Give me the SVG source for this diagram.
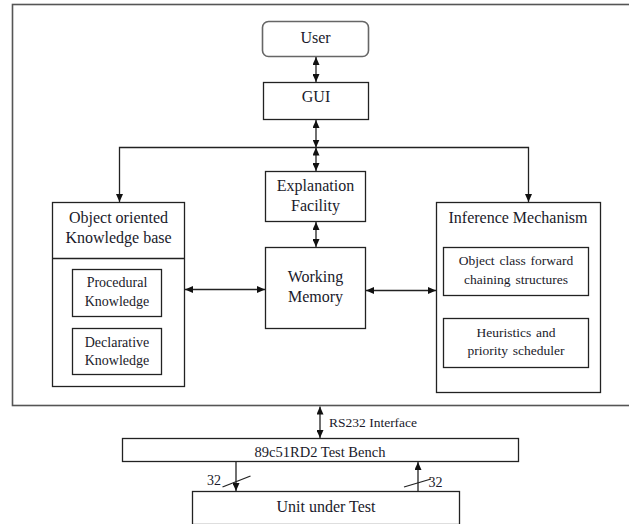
<svg xmlns="http://www.w3.org/2000/svg" width="629" height="524" viewBox="0 0 629 524">
<defs>
<marker id="ah" viewBox="0 0 8 7" refX="8" refY="3.5" markerWidth="8" markerHeight="7" markerUnits="userSpaceOnUse" orient="auto-start-reverse">
<path d="M0,0 L8,3.5 L0,7 z" fill="#111"/>
</marker>
<style>
.box{fill:#fff;stroke:#222;stroke-width:1.3}
.outer{fill:none;stroke:#555;stroke-width:1.6}
text{font-family:'Liberation Serif','Tinos','DejaVu Serif','Times New Roman',serif;font-size:16px;fill:#1a1a2a}
.t{text-anchor:middle}
.s{font-size:14px}
.r{font-size:13.5px;word-spacing:1.5px}
.c{fill:none;stroke:#222;stroke-width:1.3}
.a{marker-end:url(#ah)}
.b{marker-start:url(#ah);marker-end:url(#ah)}
</style>
</defs>
<rect width="629" height="524" fill="#fff"/>
<rect class="outer" x="12.5" y="4.5" width="630" height="401"/>

<g id="user"><rect class="box" x="262.5" y="21.5" width="106" height="35" rx="6" style="stroke:#666;stroke-width:1.6"/><text class="t" x="315.5" y="43">User</text></g>
<g id="gui"><rect class="box" x="263.5" y="82.5" width="105" height="37"/><text class="t" x="316" y="102">GUI</text></g>
<g id="explanation"><rect class="box" x="265.5" y="171.5" width="100" height="50"/><text class="t" x="315.5" y="190.5">Explanation</text><text class="t" x="315.5" y="211">Facility</text></g>
<g id="working-memory"><rect class="box" x="265.5" y="247.5" width="100" height="81"/><text class="t" x="315.5" y="282">Working</text><text class="t" x="315.5" y="302">Memory</text></g>
<g id="knowledge-base"><rect class="box" x="52.5" y="202.5" width="132" height="184"/><line class="c" x1="52.5" y1="258.5" x2="184.5" y2="258.5"/><text class="t" x="118.5" y="223">Object oriented</text><text class="t" x="118.5" y="243">Knowledge base</text></g>
<g id="procedural"><rect class="box" x="72.5" y="269.5" width="89" height="47"/><text class="t s" x="117" y="287">Procedural</text><text class="t s" x="117" y="306">Knowledge</text></g>
<g id="declarative"><rect class="box" x="72.5" y="328.5" width="89" height="46"/><text class="t s" x="117" y="346.5">Declarative</text><text class="t s" x="117" y="365">Knowledge</text></g>
<g id="inference"><rect class="box" x="436.5" y="202.5" width="164" height="190"/><text class="t" x="518" y="223">Inference Mechanism</text></g>
<g id="forward-chaining"><rect class="box" x="443.5" y="247.5" width="145" height="48"/><text class="t r" x="516" y="265">Object class forward</text><text class="t r" x="516" y="283.5">chaining structures</text></g>
<g id="heuristics"><rect class="box" x="443.5" y="318.5" width="145" height="49"/><text class="t r" x="516" y="336.5">Heuristics and</text><text class="t r" x="516" y="355">priority scheduler</text></g>
<g id="test-bench"><rect class="box" x="122.5" y="438.5" width="396" height="23"/><text class="t" x="320" y="456.5" style="font-size:14.5px">89c51RD2 Test Bench</text></g>
<g id="uut"><rect class="box" x="192.5" y="491.5" width="267" height="33"/><text class="t" x="326" y="512">Unit under Test</text></g>

<g id="connectors">
<line class="c b" x1="316" y1="57" x2="316" y2="82"/>
<line class="c b" x1="316" y1="120" x2="316" y2="147.5"/>
<line class="c b" x1="316" y1="147.5" x2="316" y2="171"/>
<line class="c b" x1="316" y1="222" x2="316" y2="247"/>
<polyline class="c a" points="316,147.5 119.5,147.5 119.5,202"/>
<polyline class="c a" points="316,147.5 528.5,147.5 528.5,202"/>
<line class="c b" x1="185" y1="289.5" x2="265" y2="289.5"/>
<line class="c b" x1="366" y1="290.5" x2="436" y2="290.5"/>
<line class="c b" x1="320" y1="406.5" x2="320" y2="438"/>
<line class="c a" x1="236" y1="462" x2="236" y2="491"/>
<line class="c a" x1="418" y1="491" x2="418" y2="462"/>
<line class="c" x1="222.5" y1="487" x2="250.5" y2="476"/>
<line class="c" x1="404" y1="487" x2="431" y2="479"/>
</g>
<text x="329" y="426.5" style="font-size:13.5px">RS232 Interface</text>
<text class="s" x="207" y="485">32</text>
<text class="s" x="428.5" y="487">32</text>
</svg>
